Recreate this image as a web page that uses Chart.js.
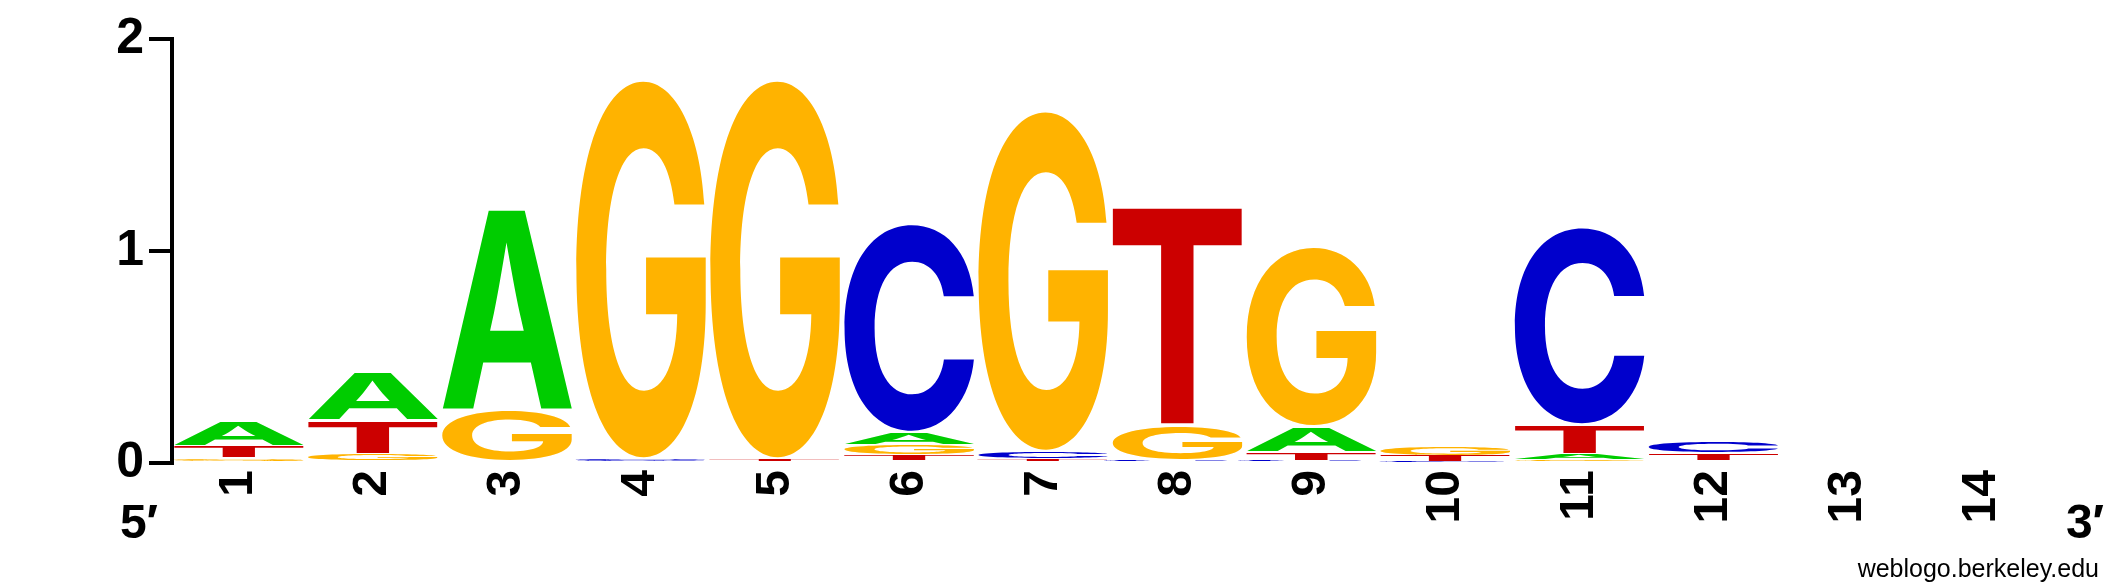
<!DOCTYPE html>
<html>
<head>
<meta charset="utf-8">
<script src="https://cdn.jsdelivr.net/npm/chart.js@4/dist/chart.umd.min.js"></script>
<style>
  body { margin: 0; background: #fff; }
  canvas { display: block; }
</style>
</head>
<body>
<canvas id="chart" width="2125" height="588"></canvas>
<script>
// --- Logo data (bits per base at each position) ---
const positions = ["1", "2", "3", "4", "5", "6", "7", "8", "9", "10", "11", "12", "13", "14"];
const bitsA = [0.12, 0.23, 0.95, 0,    0,    0.06, 0,    0,    0.12, 0,     0.025, 0,     0, 0];
const bitsC = [0,    0,    0,    0.02, 0,    0.98, 0.035,0.01, 0.01, 0.005, 0.93,  0.055, 0, 0];
const bitsG = [0.02, 0.04, 0.25, 1.78, 1.78, 0.05, 1.6,  0.17, 0.85, 0.045, 0.015, 0,     0, 0];
const bitsT = [0.06, 0.16, 0,    0,    0.02, 0.035,0.02, 1.03, 0.04, 0.03,  0.14,  0.045, 0, 0];
const yTicks = [0, 1, 2];

const bases = ["A", "C", "G", "T"];
const baseBits = { A: bitsA, C: bitsC, G: bitsG, T: bitsT };
const baseColors = { A: "#00CC00", C: "#0000CC", G: "#FFB300", T: "#CC0000" };
const fontStack = 'Helvetica, "Nimbus Sans", "Liberation Sans", Arial, sans-serif';
const glyphStack = 'Inter, "Liberation Sans", sans-serif';

// --- Build floating bars: letters stacked smallest at the bottom ---
const ranges = { A: [], C: [], G: [], T: [] };
positions.forEach((p, i) => {
  const order = bases.slice().sort((a, b) => baseBits[a][i] - baseBits[b][i]);
  let lo = 0;
  order.forEach(b => {
    const h = baseBits[b][i];
    ranges[b].push(h > 0 ? [lo, lo + h] : null);
    lo += h;
  });
});

const datasets = bases.map(b => ({
  label: b,
  data: ranges[b],
  backgroundColor: "rgba(0,0,0,0)",
  borderWidth: 0,
  grouped: false,
  barPercentage: 0.97,
  categoryPercentage: 1
}));

// --- Draw each bar as a stretched letter ---
const letterPlugin = {
  id: "letters",
  afterDatasetsDraw(chart) {
    const ctx = chart.ctx;
    chart.data.datasets.forEach((ds, di) => {
      const meta = chart.getDatasetMeta(di);
      meta.data.forEach((el, i) => {
        if (!ds.data[i]) return;
        const p = el.getProps(["x", "y", "base", "width"], true);
        const left = p.x - p.width / 2;
        let top = Math.min(p.y, p.base);
        let h = Math.abs(p.base - p.y);
        const inset = Math.min(1.5, h * 0.1);
        top += inset;
        h -= inset * 2;
        if (h <= 0) return;
        ctx.save();
        ctx.font = "bold 200px " + glyphStack;
        ctx.textAlign = "left";
        ctx.textBaseline = "alphabetic";
        const m = ctx.measureText(ds.label);
        const gw = m.actualBoundingBoxLeft + m.actualBoundingBoxRight;
        const gh = m.actualBoundingBoxAscent + m.actualBoundingBoxDescent;
        ctx.translate(left, top);
        ctx.scale(p.width / gw, h / gh);
        ctx.fillStyle = baseColors[ds.label];
        ctx.fillText(ds.label, m.actualBoundingBoxLeft, m.actualBoundingBoxAscent);
        ctx.restore();
      });
    });
  }
};

// --- 5'/3' ends and credit line ---
const notesPlugin = {
  id: "notes",
  afterDraw(chart) {
    const ctx = chart.ctx;
    ctx.save();
    ctx.fillStyle = "#000";
    ctx.textBaseline = "alphabetic";
    ctx.font = "bold 48px " + fontStack;
    ctx.textAlign = "center";
    ctx.fillText("5\u2032", 139, 538);
    ctx.fillText("3\u2032", 2085, 538);
    ctx.font = "25px " + fontStack;
    ctx.textAlign = "right";
    ctx.fillText("weblogo.berkeley.edu", 2099, 577);
    ctx.restore();
  }
};

new Chart(document.getElementById("chart").getContext("2d"), {
  type: "bar",
  data: { labels: positions, datasets: datasets },
  options: {
    responsive: false,
    animation: false,
    layout: { padding: { top: 39, right: 76, bottom: 0, left: 0 } },
    plugins: { legend: { display: false }, tooltip: { enabled: false } },
    scales: {
      x: {
        offset: true,
        grid: { display: false, drawTicks: false },
        border: { display: false },
        ticks: {
          color: "#000",
          font: { family: fontStack, size: 48, weight: "bold" },
          minRotation: 90,
          maxRotation: 90,
          padding: 7,
          autoSkip: false
        },
        afterFit: s => { s.height = 125; }
      },
      y: {
        min: 0,
        max: 2,
        afterBuildTicks: s => { s.ticks = yTicks.map(v => ({ value: v })); },
        grid: { drawOnChartArea: false, drawTicks: true, tickLength: 23, lineWidth: 4, color: "#000" },
        border: { display: true, width: 4, color: "#000" },
        ticks: {
          color: "#000",
          font: { family: fontStack, size: 50, weight: "bold" },
          padding: 5
        },
        afterFit: s => { s.width = 172; }
      }
    }
  },
  plugins: [letterPlugin, notesPlugin]
});
</script>
</body>
</html>
